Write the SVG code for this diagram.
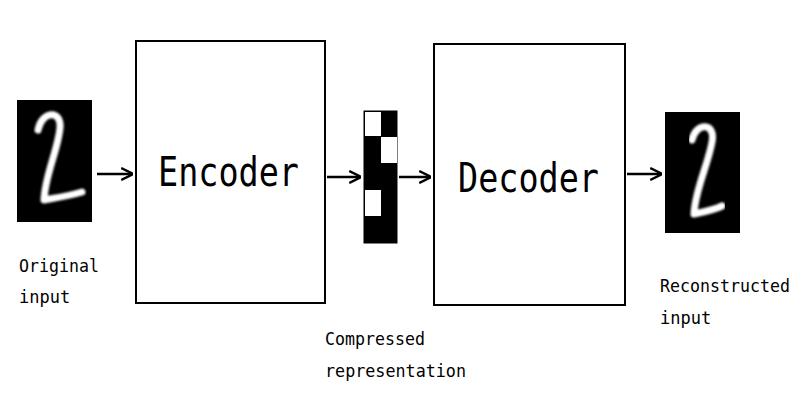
<svg xmlns="http://www.w3.org/2000/svg" width="800" height="400" viewBox="0 0 800 400">
<defs>
<style>
.box{fill:#fff;stroke:#000;stroke-width:2}
.lbl{font-family:"DejaVu Sans Mono",monospace;font-size:17px;fill:#000}
.big{font-family:"DejaVu Sans Mono",monospace;font-size:40px;fill:#000}
.con{stroke:#000;stroke-width:2.5;fill:none}
.digit{fill:none;stroke:#fff;stroke-width:7;stroke-linecap:round;stroke-linejoin:round;filter:url(#b)}
</style>
<filter id="b"><feGaussianBlur stdDeviation="1.2"/></filter>
<marker id="ah" viewBox="0 0 10 10" refX="9" refY="5" markerWidth="12" markerHeight="14" orient="auto" markerUnits="userSpaceOnUse"><path d="M0,0 L10,5 L0,10" fill="none" stroke="#000" stroke-width="2"/></marker>
</defs>
<rect width="800" height="400" fill="#fff"/>
<g id="original">
<rect x="17" y="100" width="75" height="122" fill="#000"/>
<path class="digit" d="M38,130 C42,110 62,110 60,128 C58,150 45,175 44,200 C55,198 68,196 82,192"/>
<text class="lbl" x="19" y="272" textLength="80" lengthAdjust="spacingAndGlyphs">Original</text>
<text class="lbl" x="19" y="303">input</text>
</g>
<g id="encoder">
<rect class="box" x="136" y="41" width="189" height="262"/>
<text class="big" x="158" y="186" textLength="141" lengthAdjust="spacingAndGlyphs">Encoder</text>
</g>
<g id="code">
<rect x="364" y="111" width="33" height="132" fill="#000" stroke="#000"/>
<rect x="365" y="112" width="16" height="24" fill="#fff"/>
<rect x="381" y="137" width="16" height="26" fill="#fff"/>
<rect x="365" y="190" width="16" height="26" fill="#fff"/>
<text class="lbl" x="325" y="345" textLength="100" lengthAdjust="spacingAndGlyphs">Compressed</text>
<text class="lbl" x="325" y="377" textLength="141" lengthAdjust="spacingAndGlyphs">representation</text>
</g>
<g id="decoder">
<rect class="box" x="434" y="44" width="191" height="261"/>
<text class="big" x="458" y="192" textLength="141" lengthAdjust="spacingAndGlyphs">Decoder</text>
</g>
<g id="reconstructed">
<rect x="665" y="112" width="75" height="121" fill="#000"/>
<path class="digit" d="M692,140 C696,122 716,122 712,142 C708,165 695,190 694,214 C704,212 714,210 722,206"/>
<text class="lbl" x="660" y="292" textLength="130" lengthAdjust="spacingAndGlyphs">Reconstructed</text>
<text class="lbl" x="660" y="324">input</text>
</g>
<g id="connectors">
<line class="con" x1="97" y1="174" x2="132" y2="174" marker-end="url(#ah)"/>
<line class="con" x1="327" y1="177" x2="360" y2="177" marker-end="url(#ah)"/>
<line class="con" x1="399" y1="177" x2="430" y2="177" marker-end="url(#ah)"/>
<line class="con" x1="627" y1="174" x2="661" y2="174" marker-end="url(#ah)"/>
</g>
</svg>
